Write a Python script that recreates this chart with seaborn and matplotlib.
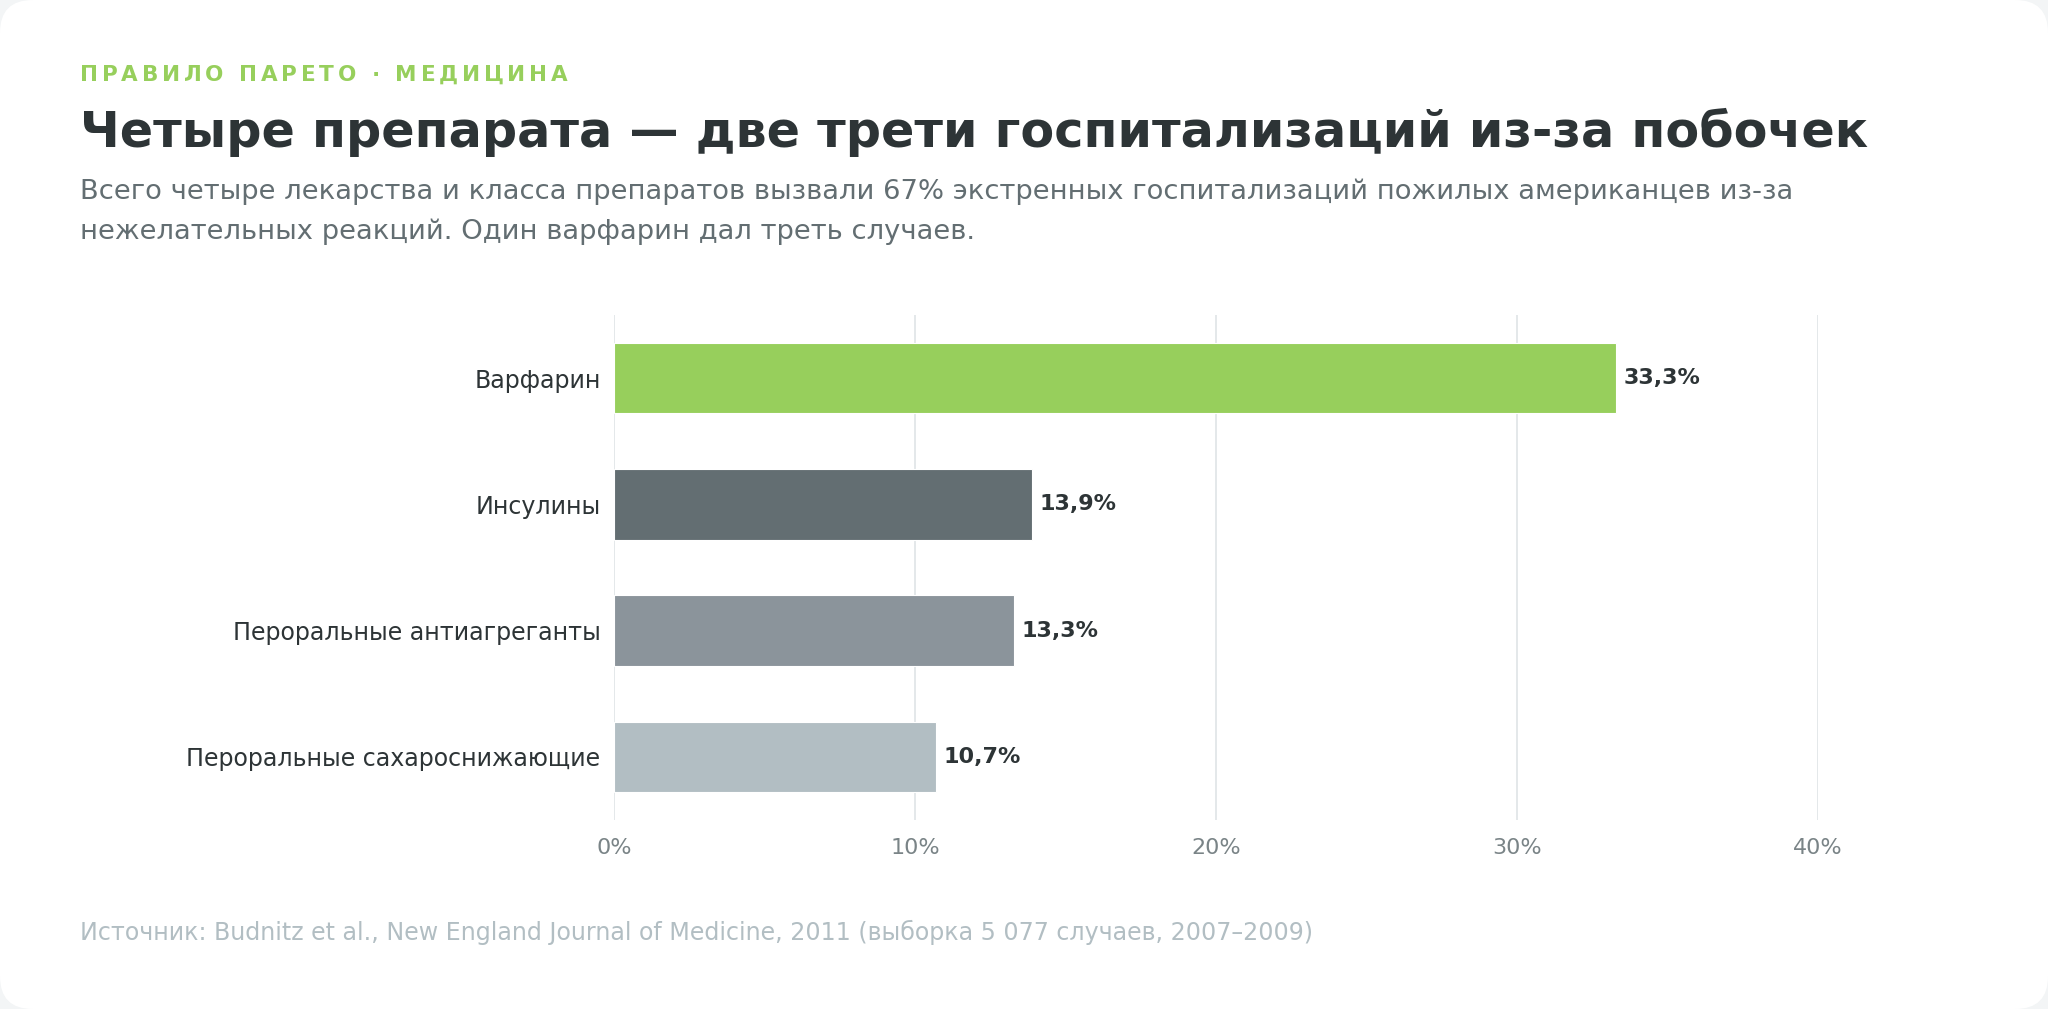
import matplotlib
matplotlib.use("Agg")
import matplotlib.pyplot as plt
import seaborn as sns
import pandas as pd
from matplotlib.patches import FancyBboxPatch
from matplotlib.ticker import FuncFormatter

# -------------------------------
# Data
# -------------------------------
drugs = ["Варфарин", "Инсулины", "Пероральные антиагреганты", "Пероральные сахароснижающие"]
shares = [33.3, 13.9, 13.3, 10.7]
bar_colors = ["#97cf5c", "#636e72", "#8b949b", "#b2bec3"]
x_ticks = [0, 10, 20, 30, 40]

kicker = "ПРАВИЛО ПАРЕТО · МЕДИЦИНА"
title = "Четыре препарата — две трети госпитализаций из-за побочек"
subtitle = ("Всего четыре лекарства и класса препаратов вызвали 67% экстренных госпитализаций пожилых американцев из-за\n"
            "нежелательных реакций. Один варфарин дал треть случаев.")
source = "Источник: Budnitz et al., New England Journal of Medicine, 2011 (выборка 5 077 случаев, 2007–2009)"

df = pd.DataFrame({"drug": drugs, "share": shares})

# -------------------------------
# Figure
# -------------------------------
sns.set_theme(style="white")
plt.rcParams["font.family"] = ["DejaVu Sans"]

W, H = 2048, 1009
fig = plt.figure(figsize=(W / 100, H / 100), dpi=100)
fig.patch.set_facecolor("#f3f5f6")

# white card with rounded corners
card = FancyBboxPatch((0, 0), 1, 1, boxstyle="round,pad=0,rounding_size=0.016",
                      transform=fig.transFigure, facecolor="white", edgecolor="none",
                      mutation_aspect=W / H, zorder=-5)
fig.patches.append(card)

ax = fig.add_axes([614 / W, 1 - 820 / H, (1818 - 614) / W, (820 - 315) / H])
ax.set_facecolor("none")
ax.set_zorder(2)

sns.barplot(data=df, x="share", y="drug", hue="drug", palette=bar_colors,
            orient="h", width=0.56, legend=False, ax=ax, zorder=3,
            saturation=1, edgecolor="#ffffff", linewidth=0.8)

ax.set_xlim(0, 40)
ax.set_ylim(3.5, -0.5)
ax.set_xticks(x_ticks)
ax.xaxis.set_major_formatter(FuncFormatter(lambda v, p: f"{v:.0f}%"))
ax.grid(axis="x", color="#dfe4e6", linewidth=1.2, zorder=0)
ax.grid(axis="y", visible=False)
ax.set_axisbelow(True)
for s in ax.spines.values():
    s.set_visible(False)
ax.tick_params(axis="x", length=0, pad=13, labelsize=16, labelcolor="#7a8487")
ax.tick_params(axis="y", length=0, pad=9.7, labelsize=17.1, labelcolor="#2d3436")
ax.set_xlabel("")
ax.set_ylabel("")

# value labels
for i, v in enumerate(shares):
    ax.text(v + 0.25, i, f"{v:.1f}%".replace(".", ","), va="center", ha="left",
            fontsize=16, fontweight="bold", color="#2d3436", zorder=4)

# -------------------------------
# Header / footer text
# -------------------------------
def px(x, y):
    return x / W, 1 - y / H

# kicker with letter spacing
renderer = fig.canvas.get_renderer()
x = 80
for ch in kicker:
    t = fig.text(*px(x, 81), ch, fontsize=15.5, fontweight="bold", color="#97cf5c", va="baseline", ha="left")
    bb = t.get_window_extent(renderer)
    adv = bb.width if ch != " " else 8
    x += adv + 3.75

fig.text(*px(80, 147), title, fontsize=35.5, fontweight="bold", color="#2d3436", va="baseline", ha="left")
fig.text(*px(80, 239), subtitle, fontsize=19.7, color="#636e72", va="baseline", ha="left", linespacing=1.67)
fig.text(*px(80, 940), source, fontsize=17.1, color="#b2bec3", va="baseline", ha="left")

fig.savefig("out.png", dpi=100, facecolor=fig.get_facecolor())
